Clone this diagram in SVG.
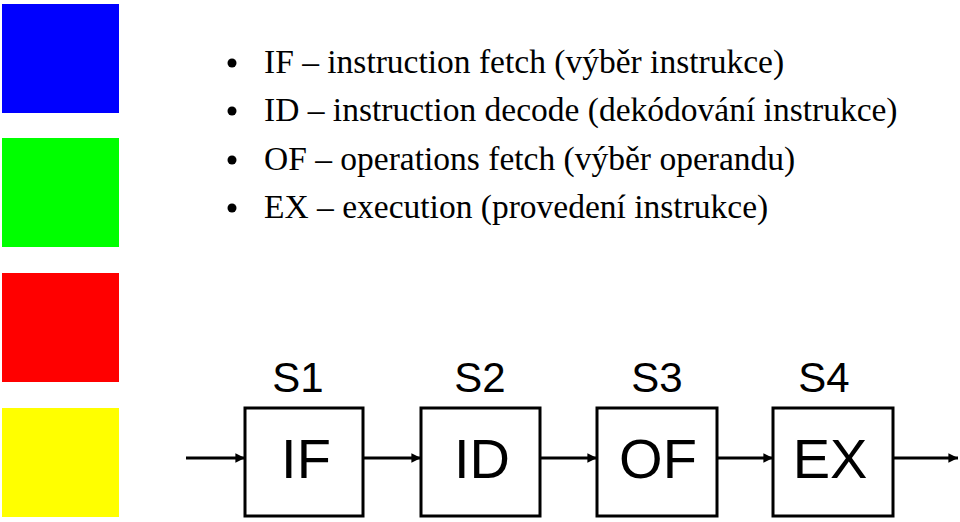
<svg xmlns="http://www.w3.org/2000/svg" width="960" height="522" viewBox="0 0 960 522">
<style>
.sq{stroke:none}
.bl{font-family:"Liberation Serif","Times New Roman",serif;font-size:33.5px;fill:#000}
.st{font-family:"Liberation Sans",Arial,sans-serif;font-size:42px;fill:#000;text-anchor:middle}
.bx{fill:#fff;stroke:#000;stroke-width:3}
.bt{font-family:"Liberation Sans",Arial,sans-serif;font-size:56px;fill:#000;text-anchor:middle}
.cn{stroke:#000;stroke-width:3;fill:none;marker-end:url(#ah)}
</style>
<defs>
<marker id="ah" viewBox="0 0 10 10" refX="10" refY="5" markerWidth="3.2" markerHeight="3.2" orient="auto" markerUnits="strokeWidth">
<path d="M0,0 L10,5 L0,10 z" fill="#000"/>
</marker>
</defs>
<rect width="960" height="522" fill="#fff"/>
<g id="squares">
<rect class="sq" x="2" y="4" width="117" height="109" fill="#0000ff"/>
<rect class="sq" x="2" y="138" width="117" height="109" fill="#00ff00"/>
<rect class="sq" x="2" y="273" width="117" height="109" fill="#ff0000"/>
<rect class="sq" x="2" y="408" width="117" height="109" fill="#ffff00"/>
</g>
<g id="bullets">
<circle cx="232" cy="63" r="4.5"/>
<circle cx="232" cy="111" r="4.5"/>
<circle cx="232" cy="160" r="4.5"/>
<circle cx="232" cy="208" r="4.5"/>
<text class="bl" x="264" y="73">IF – instruction fetch (výběr instrukce)</text>
<text class="bl" x="264" y="121">ID – instruction decode (dekódování instrukce)</text>
<text class="bl" x="264" y="170">OF – operations fetch (výběr operandu)</text>
<text class="bl" x="264" y="218">EX – execution (provedení instrukce)</text>
</g>
<g id="connectors">
<line class="cn" x1="186" y1="458" x2="245" y2="458"/>
<line class="cn" x1="363" y1="458" x2="421" y2="458"/>
<line class="cn" x1="540" y1="458" x2="597" y2="458"/>
<line class="cn" x1="717" y1="458" x2="773" y2="458"/>
<line class="cn" x1="893" y1="458" x2="958" y2="458"/>
</g>
<g id="s1"><text class="st" x="298" y="392">S1</text></g>
<g id="s2"><text class="st" x="480" y="392">S2</text></g>
<g id="s3"><text class="st" x="657" y="392">S3</text></g>
<g id="s4"><text class="st" x="824" y="392">S4</text></g>
<g id="node-if"><rect class="bx" x="245" y="408" width="118" height="108"/><text class="bt" x="306" y="478">IF</text></g>
<g id="node-id"><rect class="bx" x="421" y="408" width="119" height="108"/><text class="bt" x="482" y="478">ID</text></g>
<g id="node-of"><rect class="bx" x="597" y="408" width="120" height="108"/><text class="bt" x="658" y="478">OF</text></g>
<g id="node-ex"><rect class="bx" x="773" y="408" width="120" height="108"/><text class="bt" x="830" y="478">EX</text></g>
</svg>
